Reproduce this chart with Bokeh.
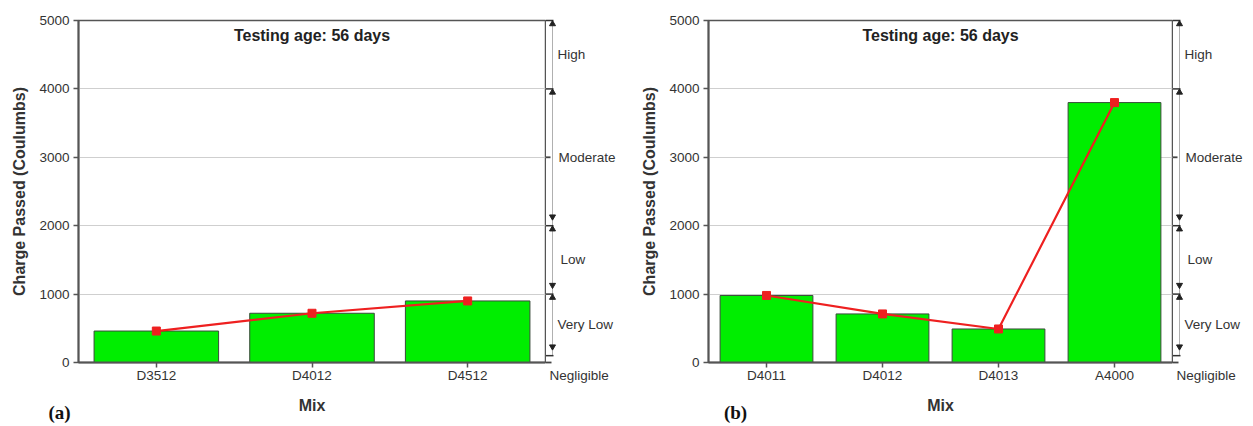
from bokeh.plotting import figure
from bokeh.layouts import row
from bokeh.models import Range1d, FactorRange, Label
from bokeh.core.properties import value
from bokeh.embed import file_html
from bokeh.resources import INLINE

# ---- data ----
mixes_a = ["D3512", "D4012", "D4512"]
charge_a = [460, 720, 900]
mixes_b = ["D4011", "D4012", "D4013", "A4000"]
charge_b = [980, 710, 490, 3800]

y_ticks = [0, 1000, 2000, 3000, 4000, 5000]
class_bounds = [5000, 4000, 2000, 1000, 100]
class_names = ["High", "Moderate", "Low", "Very Low", "Negligible"]
class_label_y = [4500, 3000, 1500, 550, -190]

title_text = "Testing age: 56 days"
y_label = "Charge Passed (Coulumbs)"
x_label = "Mix"

# ---- layout constants ----
H = 424
FT = 20
FH = 342
PPU = FH / 5000.0
FONT = "Liberation Sans"
GREEN = "#00ee00"
RED = "#ee2020"


def main_panel(cats, vals, left_border, frame_w, tag, tag_cat, tag_off):
    p = figure(x_range=FactorRange(factors=cats, range_padding=0),
               y_range=Range1d(0, 5000),
               width=left_border + frame_w + 1, height=H,
               min_border_left=left_border, min_border_right=1,
               min_border_top=FT, min_border_bottom=H - FT - FH,
               output_backend="svg", toolbar_location=None)
    p.outline_line_color = "#555555"
    p.outline_line_width = 1.5
    p.background_fill_color = "white"
    p.border_fill_color = "white"
    p.xgrid.grid_line_color = None
    p.ygrid.grid_line_color = "#cfcfcf"
    p.ygrid.grid_line_width = 1
    p.yaxis.ticker = y_ticks

    for ax in (p.xaxis[0], p.yaxis[0]):
        ax.axis_line_color = "#555555"
        ax.axis_line_width = 2
        ax.major_tick_line_color = "#555555"
        ax.major_tick_line_width = 1.5
        ax.major_tick_out = 5
        ax.major_tick_in = 0
        ax.minor_tick_line_color = None
        ax.major_label_text_font = FONT
        ax.major_label_text_font_size = "13.5px"
        ax.major_label_text_color = "#333333"
        ax.axis_label_text_font = FONT
        ax.axis_label_text_font_size = "16px"
        ax.axis_label_text_font_style = "bold"
        ax.axis_label_text_color = "#333333"
    p.xaxis.axis_label = x_label
    p.xaxis.major_label_standoff = 0
    p.xaxis.axis_label_standoff = 11
    p.yaxis.axis_label = y_label
    p.yaxis.major_label_standoff = 4
    p.yaxis.axis_label_standoff = 8

    p.vbar(x=cats, top=vals, width=0.8, fill_color=GREEN,
           line_color="#3a4a3a", line_width=1)
    p.line(x=cats, y=vals, line_color=RED, line_width=2.2)
    p.scatter(x=cats, y=vals, marker="square", size=8,
              fill_color=RED, line_color=RED)

    p.add_layout(Label(x=frame_w / 2, y=FH - 15, x_units="screen",
                       y_units="screen", text=title_text,
                       text_font=FONT, text_font_size="16px",
                       text_font_style="bold", text_color="#222222",
                       text_align="center", text_baseline="middle"))

    p.text(x=[(tag_cat, tag_off)], y=[-50 / PPU], text=[tag],
           text_font=value("Liberation Serif"), text_font_size="19px",
           text_font_style="bold", text_color="#111111",
           text_align="center", text_baseline="middle", level="annotation")
    return p


def side_panel(w):
    s = figure(x_range=Range1d(1, w + 1), y_range=Range1d(0, 5000),
               width=w, height=H, min_border_left=0, min_border_right=0,
               min_border_top=FT, min_border_bottom=H - FT - FH,
               x_axis_type=None, y_axis_type=None,
               output_backend="svg", toolbar_location=None)
    s.outline_line_color = None
    s.xgrid.grid_line_color = None
    s.ygrid.grid_line_color = None
    s.background_fill_color = "white"
    s.border_fill_color = "white"

    ax = 7
    s.segment(x0=[ax], y0=[class_bounds[-1]], x1=[ax], y1=[class_bounds[0]],
              line_color="#b0b0b0", line_width=1, level="annotation")
    n = len(class_bounds)
    s.segment(x0=[0] * n, y0=class_bounds, x1=[ax + 1] * n, y1=class_bounds,
              line_color="#333333", line_width=1.5, level="annotation")
    s.segment(x0=[0, 0], y0=[3000, 0], x1=[5, 6], y1=[3000, 0],
              line_color="#444444", line_width=1.8, level="annotation")
    ups = [b - 3.5 / PPU for b in class_bounds[:-1]]
    downs = [b + 9 / PPU for b in class_bounds[2:]]
    s.scatter(x=[ax] * len(ups), y=ups, marker="triangle", size=6,
              fill_color="#222222", line_color="#222222", level="annotation")
    s.scatter(x=[ax] * len(downs), y=downs, marker="inverted_triangle",
              size=6, fill_color="#222222", line_color="#222222",
              level="annotation")
    xs = [12, 13, 15, 12, 4]
    s.text(x=xs, y=class_label_y, text=class_names,
           text_font=value(FONT), text_font_size="13.5px",
           text_color="#333333", text_align="left", text_baseline="middle",
           level="annotation")
    return s


pa = main_panel(mixes_a, charge_a, 78, 467, "(a)", "D3512", -0.622)
sa = side_panel(79)
pb = main_panel(mixes_b, charge_b, 83, 464, "(b)", "D4011", -0.267)
sb = side_panel(77)

layout = row(pa, sa, pb, sb)
open("out.html", "w").write(file_html(layout, INLINE))
